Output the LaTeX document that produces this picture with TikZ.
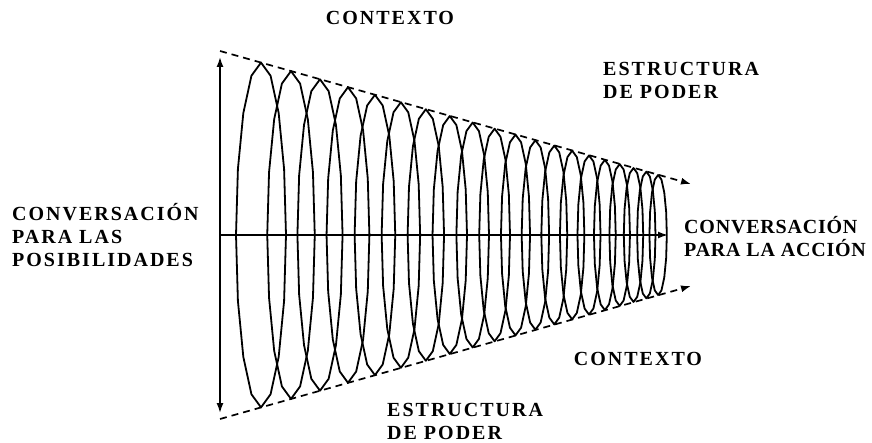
\documentclass[tikz,border=0pt]{standalone}
\usepackage{fontspec}
\setmainfont{Liberation Serif}
\newfontfamily\lblfont[LetterSpace=10]{Liberation Serif}
\newfontfamily\lblfontn[LetterSpace=4]{Liberation Serif}
\usetikzlibrary{arrows.meta}
\tikzset{
  lbl/.style={font=\lblfont\bfseries\fontsize{20}{23}\selectfont, align=left, inner sep=0pt},
  lbln/.style={lbl, font=\lblfontn\bfseries\fontsize{20}{23}\selectfont},
  axis/.style={line width=1.6pt, -{Latex[length=10pt,width=7pt]}},
  guide/.style={line width=1.7pt, dash pattern=on 7pt off 5pt, -{Latex[length=10pt,width=7pt]}},
  ell/.style={line width=1.8pt, line join=round}
}
\begin{document}
\begin{tikzpicture}[x=1pt,y=-1pt]
\useasboundingbox (0,0) rectangle (872,443);
% ellipses
\foreach \i in {0,...,19}{
  \pgfmathsetmacro\c{261+30*\i-1.011*\i*(\i-1)/2}
  \pgfmathsetmacro\h{184-0.283*(\c-220)}
  \pgfmathsetmacro\w{0.145*\h}
  \draw[ell] plot[samples=17, domain=0:360, variable=\t] ({\c+\w*cos(\t)},{235+\h*sin(\t)}) -- cycle;
}
% axes
\coordinate (vt) at (220,57);
\coordinate (vb) at (220,413);
\coordinate (h0) at (220,235);
\coordinate (h1) at (668,235);
\draw[axis, {Latex[length=10pt,width=7pt]}-{Latex[length=10pt,width=7pt]}] (vb) -- (vt);
\draw[axis] (h0) -- (h1);
% dashed guides
\coordinate (ts) at (220,51);
\coordinate (te) at (691,184);
\coordinate (bs) at (220,419);
\coordinate (be) at (691,286);
\draw[guide] (ts) -- (te);
\draw[guide] (bs) -- (be);
% labels
\node[lbl, anchor=center] (ctop) at (390,18) {CONTEXTO};
\node[lbl, anchor=north west] (eptop) at (603,62) {ESTRUCTURA\\DE PODER};
\node[lbl, anchor=west] (cpos) at (12,235) {CONVERSACIÓN\\PARA LAS\\POSIBILIDADES};
\node[lbln, anchor=west] (cacc) at (684,237) {CONVERSACIÓN\\PARA LA ACCIÓN};
\node[lbl, anchor=center] (cbot) at (638,359) {CONTEXTO};
\node[lbl, anchor=north west] (epbot) at (387,403) {ESTRUCTURA\\DE PODER};
\end{tikzpicture}
\end{document}
